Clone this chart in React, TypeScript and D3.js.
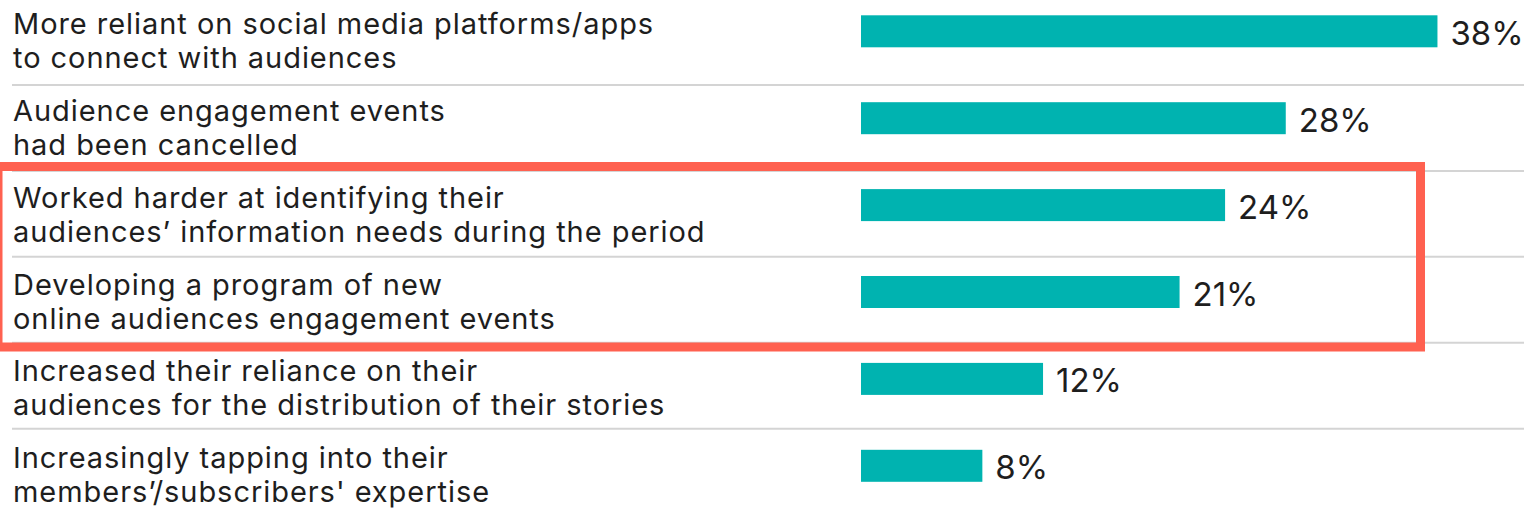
import React from "react";
import * as d3 from "d3";

const categories: string[][] = [
  ["More reliant on social media platforms/apps", "to connect with audiences"],
  ["Audience engagement events", "had been cancelled"],
  ["Worked harder at identifying their", "audiences\u2019 information needs during the period"],
  ["Developing a program of new", "online audiences engagement events"],
  ["Increased their reliance on their", "audiences for the distribution of their stories"],
  ["Increasingly tapping into their", "members\u2019/subscribers' expertise"],
];
const values: number[] = [38, 28, 24, 21, 12, 8];
const valueLabels: string[] = ["38%", "28%", "24%", "21%", "12%", "8%"];
const highlighted: number[] = [2, 3];

const W = 1524;
const H = 508;
const TEAL = "#00B3B0";
const RED = "#FF6150";
const FONT = "Inter, 'Open Sans', sans-serif";

export default function App() {
  const x = d3.scaleLinear().domain([0, 40]).range([861, 861 + 40 * 15.17]);
  const idx = d3.range(categories.length).map(String);
  const yc = d3.scalePoint().domain(idx).range([31.3, 31.3 + 86.9 * 5]);
  const ySep = d3.scaleLinear().domain([0, 4]).range([85, 428.7]);
  const bh = 32;
  const center = (i: number) => yc(String(i)) as number;
  const hl0 = d3.min(highlighted) as number;
  const hl1 = d3.max(highlighted) as number;
  const boxTop = center(hl0) - 38.6;
  const boxBottom = center(hl1) + 55;
  return (
    <svg width={W} height={H} style={{ position: "absolute", left: 0, top: 0, background: "#fff" }} fontFamily={FONT}>
      <rect x={0} y={0} width={W} height={H} fill="#fff" />
      {categories.slice(0, -1).map((_, i) => (
        <line key={"s" + i} x1={12} x2={W} y1={ySep(i)} y2={ySep(i)} stroke="#d4d4d4" strokeWidth={2} />
      ))}
      {categories.map((lines, i) => (
        <g key={"c" + i}>
          {lines.map((t, j) => (
            <text key={j} x={13} y={center(i) + 2.5 + j * 34} fontSize={29} letterSpacing={0.95} fill="#1e1e1e">
              {t}
            </text>
          ))}
          <rect x={x(0)} y={center(i) - bh / 2} width={x(values[i]) - x(0)} height={bh} fill={TEAL} />
          <text x={x(values[i]) + 13} y={center(i) + 13.5} fontSize={33} fill="#1e1e1e">
            {valueLabels[i]}
          </text>
        </g>
      ))}
      <rect
        x={-2}
        y={boxTop}
        width={1422.5}
        height={boxBottom - boxTop}
        fill="none"
        stroke={RED}
        strokeWidth={9}
      />
    </svg>
  );
}
